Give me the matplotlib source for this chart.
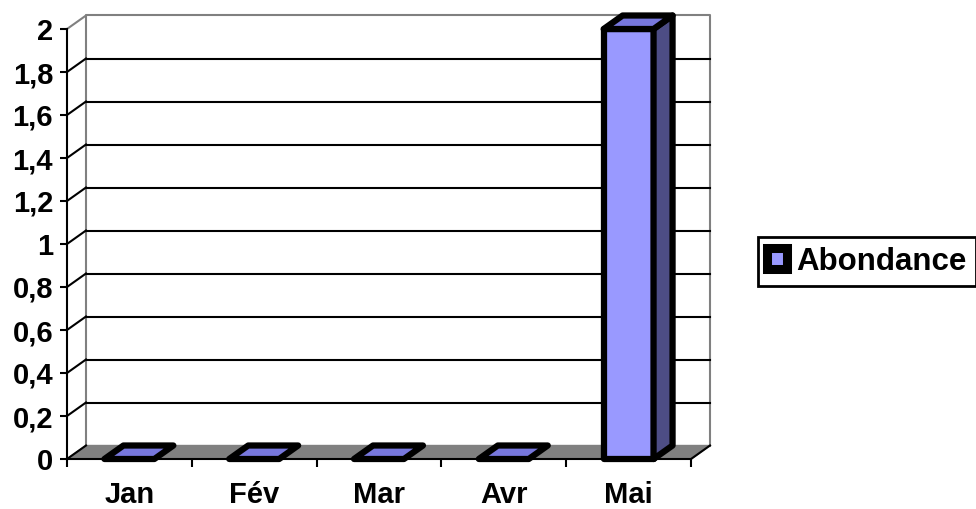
import matplotlib
matplotlib.use("Agg")
import matplotlib.pyplot as plt
from matplotlib.patches import Polygon, Rectangle, Patch

plt.rcParams["font.family"] = ["Liberation Sans", "DejaVu Sans"]
plt.rcParams["font.weight"] = "bold"

months = ["Jan", "Fév", "Mar", "Avr", "Mai"]
abondance = [0, 0, 0, 0, 2]
y_ticks = [0, 0.2, 0.4, 0.6, 0.8, 1.0, 1.2, 1.4, 1.6, 1.8, 2.0]
y_labels = ["0", "0,2", "0,4", "0,6", "0,8", "1", "1,2", "1,4", "1,6", "1,8", "2"]
series_name = "Abondance"

FRONT = "#9999FF"
TOP = "#7777DD"
SIDE = "#4D4D85"
GREY = "#808080"
DX, DY = 19, 13.5      # depth of the 3D box, in pixels
BAR_W = 0.40

fig = plt.figure(figsize=(9.76, 5.09), dpi=100)
ax = fig.add_axes([67 / 976, 50 / 509, 624 / 976, 430 / 509])
ax.set_xlim(-0.5, len(months) - 0.5)
ax.set_ylim(0, 2)
ax.patch.set_visible(False)
for side in ("top", "right"):
    ax.spines[side].set_visible(False)
for side in ("left", "bottom"):
    ax.spines[side].set_linewidth(1.5)
    ax.spines[side].set_zorder(6)


def back(x, y):
    # push a data point into the depth of the box
    px = ax.transData.transform((x, y))
    return ax.transData.inverted().transform(px + (DX, DY))


x_lo, x_hi = -0.5, len(months) - 0.5

# floor
floor = Polygon([(x_lo, 0), (x_hi, 0), back(x_hi, 0), back(x_lo, 0)],
                closed=True, facecolor=GREY, edgecolor=GREY, lw=1, clip_on=False, zorder=1)
ax.add_patch(floor)
ax.plot(*zip((x_hi, 0), back(x_hi, 0)), color="black", lw=1.5, clip_on=False, zorder=2)

# back wall border
wall = [back(x_lo, 0), back(x_lo, 2), back(x_hi, 2), back(x_hi, 0)]
ax.plot(*zip(*wall), color=GREY, lw=1.5, clip_on=False, zorder=1)
ax.plot(*zip((x_lo, 2), back(x_lo, 2)), color=GREY, lw=1.5, clip_on=False, zorder=1)

# gridlines on the back wall and across the side wall
for v in y_ticks[:-1]:
    if v > 0:
        ax.plot(*zip(back(x_lo, v), back(x_hi, v)), color="black", lw=1.5,
                clip_on=False, zorder=2)
    ax.plot(*zip((x_lo, v), back(x_lo, v)), color="black", lw=1.5,
            clip_on=False, zorder=2)

# 3D columns
for i, v in enumerate(abondance):
    x0, x1 = i - BAR_W / 2, i + BAR_W / 2
    kw = dict(edgecolor="black", lw=4.5, joinstyle="round", clip_on=False, zorder=4)
    if v > 0:
        ax.add_patch(Rectangle((x0, 0), BAR_W, v, facecolor=FRONT, **kw))
        ax.add_patch(Polygon([(x1, 0), back(x1, 0), back(x1, v), (x1, v)],
                             facecolor=SIDE, **kw))
    ax.add_patch(Polygon([(x0, v), (x1, v), back(x1, v), back(x0, v)],
                         facecolor=TOP, **kw))

# axes ticks
ax.set_yticks(y_ticks, y_labels)
ax.tick_params(axis="y", length=5, width=1.5, pad=5, labelsize=21)
ax.set_xticks([i - 0.5 for i in range(len(months) + 1)], [""] * (len(months) + 1))
ax.set_xticks(range(len(months)), months, minor=True)
ax.tick_params(axis="x", which="major", length=6, width=1.5)
ax.tick_params(axis="x", which="minor", length=0, pad=16, labelsize=21)
for lab in ax.get_xticklabels(minor=True) + ax.get_yticklabels():
    lab.set_fontweight("bold")

# legend
handle = Patch(facecolor=FRONT, edgecolor="black", linewidth=6.5, joinstyle="round")
leg = fig.legend([handle], [series_name], loc="center left",
                 bbox_to_anchor=(758 / 976, (509 - 261.5) / 509), borderaxespad=0,
                 fancybox=False, edgecolor="black", framealpha=1,
                 prop={"size": 22.5, "weight": "bold"},
                 handlelength=0.62, handleheight=0.62, handletextpad=0.3, borderpad=0.3)
leg.get_frame().set_linewidth(2)

fig.savefig("out.png", dpi=100)
